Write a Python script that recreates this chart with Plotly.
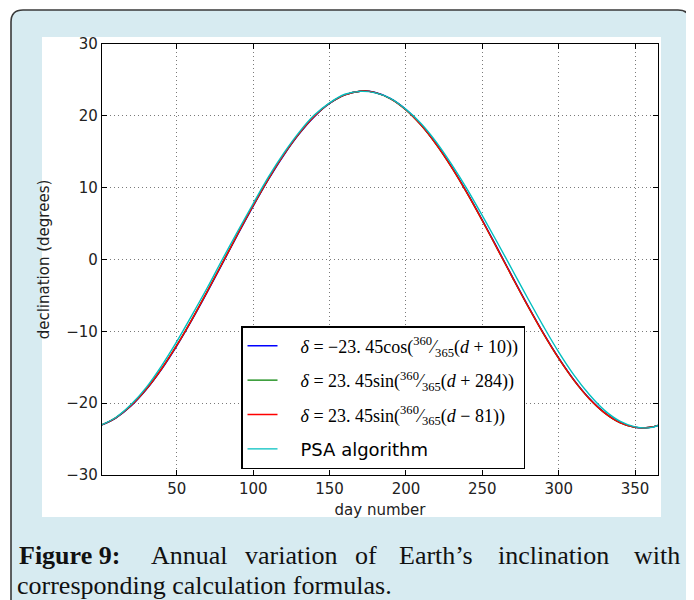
import plotly.graph_objects as go

# ---------------- data ----------------
days = [1, 10, 20, 30, 40, 50, 60, 70, 80, 90, 100, 110, 120, 130, 140, 150, 160, 170, 180,
        190, 200, 210, 220, 230, 240, 250, 260, 270, 280, 290, 300, 310, 320, 330, 340, 350, 360, 365]

cos_formula = [-23.03, -22.07, -20.39, -18.10, -15.29, -12.02, -8.38, -4.51, -0.51, 3.52, 7.43,
               11.14, 14.51, 17.45, 19.88, 21.71, 22.91, 23.43, 23.25, 22.39, 20.87, 18.73, 16.03,
               12.87, 9.32, 5.50, 1.51, -2.52, -6.47, -10.24, -13.70, -16.76, -19.32, -21.31,
               -22.67, -23.36, -23.36, -23.11]

sin284_formula = [-23.01, -22.04, -20.34, -18.04, -15.21, -11.93, -8.29, -4.41, -0.41, 3.62, 7.53,
                  11.23, 14.59, 17.52, 19.93, 21.75, 22.93, 23.43, 23.24, 22.36, 20.82, 18.67, 15.96,
                  12.79, 9.23, 5.40, 1.41, -2.62, -6.57, -10.33, -13.78, -16.83, -19.38, -21.35,
                  -22.70, -23.37, -23.35, -23.09]

sin81_formula = [-23.01, -22.04, -20.34, -18.04, -15.21, -11.93, -8.29, -4.41, -0.41, 3.62, 7.53,
                 11.23, 14.59, 17.52, 19.93, 21.75, 22.93, 23.43, 23.24, 22.36, 20.82, 18.67, 15.96,
                 12.79, 9.23, 5.40, 1.41, -2.62, -6.57, -10.33, -13.78, -16.83, -19.38, -21.35,
                 -22.70, -23.37, -23.35, -23.09]

psa = [-23.0, -22.0, -20.2, -17.8, -14.8, -11.4, -7.7, -3.9, 0.1, 4.0, 7.8, 11.5, 14.8, 17.7,
       20.1, 21.8, 23.0, 23.4, 23.2, 22.4, 20.9, 18.9, 16.3, 13.2, 9.8, 6.1, 2.3, -1.6, -5.5,
       -9.3, -12.9, -16.1, -18.8, -21.0, -22.5, -23.3, -23.4, -23.1]

series_names = [
    "    <i>δ</i> = −23. 45cos(<sup>360</sup>⁄<sub>365</sub>(<i>d</i> + 10))",
    "    <i>δ</i> = 23. 45sin(<sup>360</sup>⁄<sub>365</sub>(<i>d</i> + 284))",
    "    <i>δ</i> = 23. 45sin(<sup>360</sup>⁄<sub>365</sub>(<i>d</i> − 81))",
    "    <span style='font-family:DejaVu Sans'>PSA algorithm</span>",
]
series_colors = ["#0000ff", "#008000", "#ff0000", "#00bfbf"]

x_ticks = [50, 100, 150, 200, 250, 300, 350]
y_ticks = [-30, -20, -10, 0, 10, 20, 30]

caption_words_line1 = ["<b>Figure 9:</b>", "Annual", "variation", "of", "Earth’s", "inclination", "with"]
caption_line2 = "corresponding calculation formulas."

# ---------------- layout geometry (pixels) ----------------
# the page body adds an 8 px margin, so the figure is made 8 px smaller and
# every target position (given in window pixels) is shifted by that offset
O = 8
W, H = 694 - O, 600 - O
PLOT_L, PLOT_R, PLOT_T, PLOT_B = 102, 658, 44, 475   # window pixels
L, T = PLOT_L - O, PLOT_T - O
R, B = W - (PLOT_R - O), H - (PLOT_B - O)
PW, PH = W - L - R, H - T - B


def px(xw):
    return (xw - O - L) / PW


def py(yw):
    return (H - B - (yw - O)) / PH


fig = go.Figure()
for vals, name, col in zip([cos_formula, sin284_formula, sin81_formula, psa], series_names, series_colors):
    fig.add_trace(go.Scatter(x=days, y=vals, mode="lines", name=name, legendgroup=name,
                             line=dict(color=col, width=1.4, shape="spline")))

# rounded outer frame
x0, x1, y0, y1, r = 11, 690, 10, 660, 12
path = (f"M {px(x0 + r)},{py(y0)} L {px(x1 - r)},{py(y0)} Q {px(x1)},{py(y0)} {px(x1)},{py(y0 + r)} "
        f"L {px(x1)},{py(y1)} L {px(x0)},{py(y1)} L {px(x0)},{py(y0 + r)} "
        f"Q {px(x0)},{py(y0)} {px(x0 + r)},{py(y0)} Z")
shapes = [
    dict(type="path", path=path, xref="paper", yref="paper", layer="below",
         fillcolor="#d7ebf1", line=dict(color="#3a3a3a", width=1.6)),
    dict(type="rect", xref="paper", yref="paper", layer="below",
         x0=px(42), x1=px(661), y0=py(517), y1=py(37),
         fillcolor="white", line=dict(width=0)),
]

cap_font = dict(family="Liberation Serif", size=26, color="#111111")
annotations = []
word_centers = [69, 189, 291, 366, 436, 553]
for w, xc in zip(caption_words_line1[:-1], word_centers):
    annotations.append(dict(text=w, x=px(xc), y=py(555), xref="paper", yref="paper",
                            xanchor="center", yanchor="middle", showarrow=False, font=cap_font))
annotations.append(dict(text=caption_words_line1[-1], x=px(682), y=py(555), xref="paper", yref="paper",
                        xanchor="right", yanchor="middle", showarrow=False, font=cap_font))
annotations.append(dict(text=caption_line2, x=px(15), y=py(585), xref="paper", yref="paper",
                        xanchor="left", yanchor="middle", showarrow=False, font=cap_font))

axis_common = dict(showline=True, linecolor="black", linewidth=1.2, mirror="ticks",
                   ticks="inside", ticklen=5, tickcolor="black", tickwidth=1,
                   showgrid=True, gridcolor="#7a7a7a", gridwidth=1, griddash="1px,3px",
                   zeroline=False, tickfont=dict(family="DejaVu Sans", size=15, color="#222222"))

fig.update_layout(
    width=W, height=H,
    margin=dict(l=L, r=R, t=T, b=B),
    paper_bgcolor="white", plot_bgcolor="white",
    shapes=shapes, annotations=annotations,
    showlegend=True,
    legend=dict(x=px(241), y=py(326), xanchor="left", yanchor="top",
                bgcolor="white", bordercolor="black", borderwidth=1.5,
                font=dict(family="Liberation Serif", size=18, color="black"),
                tracegroupgap=8, itemwidth=30),
    xaxis=dict(range=[1, 365], tickvals=x_ticks,
               title=dict(text="day number", standoff=7,
                          font=dict(family="DejaVu Sans", size=15, color="#222222")),
               **axis_common),
    yaxis=dict(range=[-30, 30], tickvals=y_ticks,
               title=dict(text="declination (degrees)", standoff=12,
                          font=dict(family="DejaVu Sans", size=15, color="#222222")),
               **axis_common),
)

fig.write_html("out.html")
